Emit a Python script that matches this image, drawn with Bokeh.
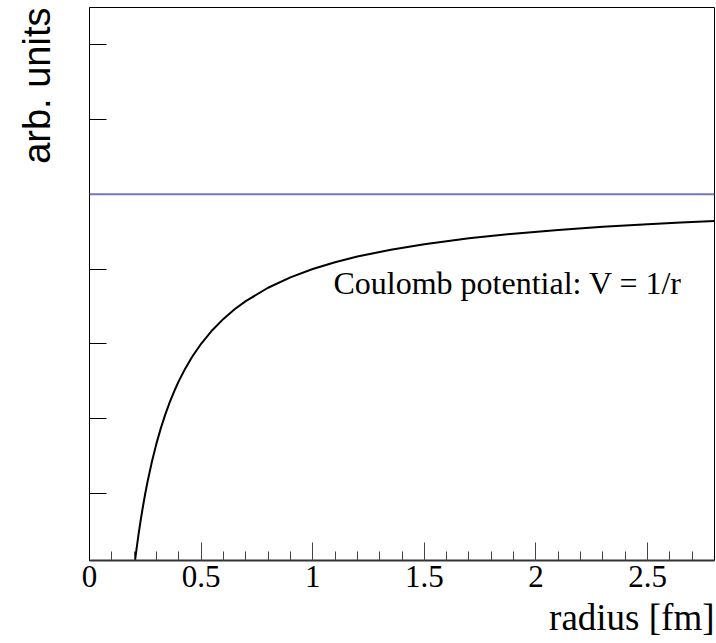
from bokeh.plotting import figure
from bokeh.models import FixedTicker, Label, Span, Title
from bokeh.embed import file_html
from bokeh.resources import INLINE

# Data (Coulomb potential curve)
radius = [0.204, 0.21, 0.22, 0.23, 0.24, 0.25, 0.26, 0.28, 0.30, 0.32, 0.34, 0.36,
          0.38, 0.40, 0.43, 0.46, 0.50, 0.55, 0.60, 0.65, 0.70, 0.80, 0.90, 1.00,
          1.10, 1.20, 1.35, 1.50, 1.70, 1.90, 2.10, 2.30, 2.50, 2.65, 2.80]
potential = [-4.902, -4.762, -4.545, -4.348, -4.167, -4.000, -3.846, -3.571, -3.333,
             -3.125, -2.941, -2.778, -2.632, -2.500, -2.326, -2.174, -2.000, -1.818,
             -1.667, -1.538, -1.429, -1.250, -1.111, -1.000, -0.909, -0.833, -0.741,
             -0.667, -0.588, -0.526, -0.476, -0.435, -0.400, -0.377, -0.357]
zero_level = 0.0
x_ticks = [0, 0.5, 1, 1.5, 2, 2.5]
x_tick_labels = {0: "0", 0.5: "0.5", 1: "1", 1.5: "1.5", 2: "2", 2.5: "2.5"}
y_ticks = [-4, -3, -2, -1, 0, 1, 2]
x_title = "radius [fm]"
y_title = "arb. units"
note = "Coulomb potential: V = 1/r"

SERIF = "Liberation Serif"
SANS = "Liberation Sans"

p = figure(width=716, height=643, x_range=(0, 2.8), y_range=(-4.9, 2.5),
           output_backend="svg", toolbar_location=None,
           min_border_left=89, min_border_right=2, min_border_top=7,
           min_border_bottom=82)
p.background_fill_color = "white"
p.border_fill_color = "white"
p.outline_line_color = "black"
p.outline_line_width = 1
p.xgrid.visible = False
p.ygrid.visible = False

# x axis
xa = p.xaxis[0]
xa.ticker = FixedTicker(ticks=x_ticks, minor_ticks=[i / 10 for i in range(0, 28)])
xa.major_label_overrides = {k: v for k, v in x_tick_labels.items()}
xa.major_tick_in = 18
xa.major_tick_out = 0
xa.minor_tick_in = 9
xa.minor_tick_out = 0
xa.major_tick_line_color = "#444444"
xa.minor_tick_line_color = "#444444"
xa.axis_line_color = "#333333"
xa.axis_line_width = 2
xa.major_label_text_font = SERIF
xa.major_label_text_font_size = "31px"
xa.major_label_text_color = "black"
xa.major_label_standoff = 5

# y axis
ya = p.yaxis[0]
ya.ticker = FixedTicker(ticks=y_ticks, minor_ticks=[])
ya.major_label_overrides = {t: "" for t in y_ticks}
ya.major_tick_in = 17
ya.major_tick_out = 0
ya.major_tick_line_color = "black"
ya.axis_line_color = "black"
ya.major_label_text_font_size = "1px"
ya.major_label_standoff = 0

# axis titles (right-aligned at the far end of each axis)
p.add_layout(Title(text=x_title, align="right", text_font=SERIF,
                   text_font_size="37px", text_font_style="normal",
                   text_color="black", standoff=11), "below")
# blank spacer panel between the y axis and its title
p.add_layout(Title(text=" ", text_font_size="10px", standoff=19), "left")
p.add_layout(Title(text=y_title, align="right", text_font=SANS,
                   text_font_size="38px", text_font_style="normal",
                   text_color="black", standoff=0), "left")

# curves
p.add_layout(Span(location=zero_level, dimension="width", line_color="#7474c8",
                  line_width=2))
p.line(radius, potential, line_color="black", line_width=2)

p.add_layout(Label(x=1.093, y=-1.185, text=note, text_font=SERIF,
                   text_font_size="32px", text_align="left",
                   text_baseline="alphabetic", text_color="black"))

open("out.html", "w").write(file_html(p, INLINE))
